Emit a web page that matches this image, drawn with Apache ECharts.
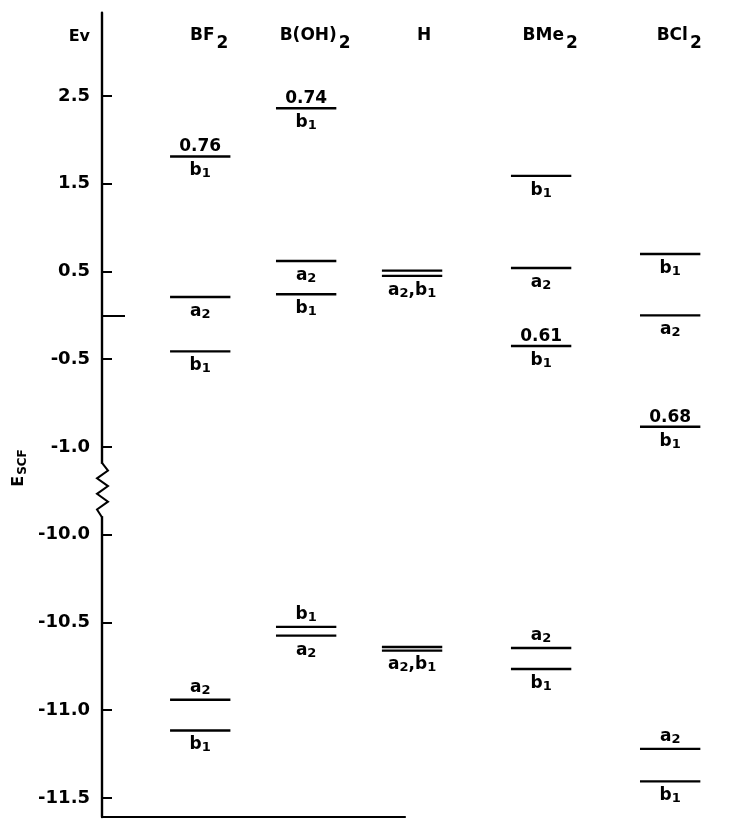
<!DOCTYPE html>
<html><head><meta charset="utf-8">
<script src="https://cdn.jsdelivr.net/npm/echarts@6/dist/echarts.min.js"></script>
<style>html,body{margin:0;padding:0;background:#fff}#c{width:744px;height:819px}</style>
</head><body><div id="c"></div>
<script>
// ---- data (level positions in axis units: one unit per labelled tick step) ----
const compounds = ['BF2', 'B(OH)2', 'H', 'BMe2', 'BCl2'];
const tickLabels = ['-11.5', '-11.0', '-10.5', '-10.0', '-1.0', '-0.5', '0.5', '1.5', '2.5'];
const tickPositions = [0, 1, 2, 3, 4, 5, 6, 7, 8];
const zeroTick = [5.5];

const bf2Levels = [7.31, 5.71, 5.09, 1.12, 0.77];
const bf2Syms = ['b1', 'a2', 'b1', 'a2', 'b1'];
const bf2Coef = ['0.76', '', '', '', ''];

const bohLevels = [7.86, 6.12, 5.74, 1.95, 1.85];
const bohSyms = ['b1', 'a2', 'b1', 'b1', 'a2'];
const bohCoef = ['0.74', '', '', '', ''];

const hLevels = [6.01, 5.95, 1.72, 1.68];
const hSyms = ['', 'a2,b1', '', 'a2,b1'];
const hCoef = ['', '', '', ''];

const bme2Levels = [7.09, 6.04, 5.15, 1.71, 1.47];
const bme2Syms = ['b1', 'a2', 'b1', 'a2', 'b1'];
const bme2Coef = ['', '', '0.61', '', ''];

const bcl2Levels = [6.20, 5.50, 4.23, 0.56, 0.19];
const bcl2Syms = ['b1', 'a2', 'b1', 'a2', 'b1'];
const bcl2Coef = ['', '', '0.68', '', ''];

// ---- layout ----
const colX = [1.53, 3.18, 4.83, 6.84, 8.85];   // column centres on x axis (0..10)
const halfW = 0.47;
const bf2Side = ['b', 'b', 'b', 'a', 'b'];
const bohSide = ['b', 'b', 'b', 'a', 'b'];
const hSide = ['b', 'b', 'b', 'b'];
const bme2Side = ['b', 'b', 'b', 'a', 'b'];
const bcl2Side = ['b', 'b', 'b', 'a', 'b'];

const FONT = 'DejaVu Sans';
const rich = {
  m: { fontSize: 17, fontWeight: 'bold', fontFamily: FONT, fill: '#000', color: '#000' },
  s: { fontSize: 13, fontWeight: 'bold', fontFamily: FONT, fill: '#000', color: '#000', padding: [6, 0, 0, 0] },
  n: { fontSize: 17, fontWeight: 'bold', fontFamily: FONT, fill: '#000', color: '#000' }
};
function symText(s) {
  return s.split(',').map(p => '{m|' + p[0] + '}{s|' + p.slice(1) + '}').join('{m|,}');
}

function makeSeries(ci, levels, syms, coef, side) {
  return {
    type: 'custom', xAxisIndex: 0, yAxisIndex: 0, silent: true,
    data: levels.map((v, i) => [colX[ci], v, i]),
    renderItem: function (params, api) {
      const i = api.value(2);
      const p = api.coord([api.value(0), api.value(1)]);
      const hw = api.size([halfW, 0])[0];
      const ch = [{
        type: 'line',
        shape: { x1: p[0] - hw, y1: p[1], x2: p[0] + hw, y2: p[1] },
        style: { stroke: '#000', lineWidth: 2.4 }
      }];
      if (syms[i]) {
        const above = side[i] === 'a';
        ch.push({
          type: 'text',
          style: {
            text: symText(syms[i]), rich: rich,
            x: p[0], y: above ? p[1] - 3 : p[1] + 5,
            align: 'center', verticalAlign: above ? 'bottom' : 'top', fill: '#000'
          }
        });
      }
      if (coef[i]) {
        ch.push({
          type: 'text',
          style: {
            text: '{n|' + coef[i] + '}', rich: rich,
            x: p[0], y: p[1] - 1, align: 'center', verticalAlign: 'bottom', fill: '#000'
          }
        });
      }
      return { type: 'group', children: ch };
    }
  };
}

const chart = echarts.init(document.getElementById('c'), null, { renderer: 'canvas' });
const yMin = -0.2165, yMax = 8.949;
const option = {
  backgroundColor: '#fff',
  animation: false,
  grid: [
    { left: 102, right: 0, top: 12.7, bottom: 2 },
    { left: 102, width: 303, top: 12.7, bottom: 2 }
  ],
  xAxis: [
    { gridIndex: 0, type: 'value', min: 0, max: 10, show: false },
    { gridIndex: 1, type: 'value', min: 0, max: 1, axisLine: { show: true, onZero: false, lineStyle: { color: '#000', width: 2.2 } },
      axisTick: { show: false }, axisLabel: { show: false }, splitLine: { show: false } }
  ],
  yAxis: [
    { gridIndex: 0, type: 'value', min: yMin, max: yMax,
      axisLine: { show: true, lineStyle: { color: '#000', width: 2.4 } },
      axisTick: { show: true, inside: true, length: 10, customValues: tickPositions, lineStyle: { color: '#000', width: 2 } },
      axisLabel: { show: true, customValues: tickPositions, margin: 12, color: '#000', fontSize: 18, fontWeight: 'bold', fontFamily: FONT,
        formatter: v => tickLabels[Math.round(v)] },
      splitLine: { show: false } },
    { gridIndex: 0, type: 'value', min: yMin, max: yMax, position: 'left',
      axisLine: { show: false },
      axisTick: { show: true, inside: true, length: 23, customValues: zeroTick, lineStyle: { color: '#000', width: 2 } },
      axisLabel: { show: false }, splitLine: { show: false } },
    { gridIndex: 1, type: 'value', min: yMin, max: yMax, show: false }
  ],
  series: [
    makeSeries(0, bf2Levels, bf2Syms, bf2Coef, bf2Side),
    makeSeries(1, bohLevels, bohSyms, bohCoef, bohSide),
    makeSeries(2, hLevels, hSyms, hCoef, hSide),
    makeSeries(3, bme2Levels, bme2Syms, bme2Coef, bme2Side),
    makeSeries(4, bcl2Levels, bcl2Syms, bcl2Coef, bcl2Side)
  ]
};
chart.setOption(option);

// ---- decorations: headers, axis names, axis break ----
const axX = chart.convertToPixel({ xAxisIndex: 0 }, 0);
const yBreakTop = chart.convertToPixel({ yAxisIndex: 0 }, 3.82);
const yBreakBot = chart.convertToPixel({ yAxisIndex: 0 }, 3.20);
const step = (yBreakBot - yBreakTop) / 7;
const zig = [[axX, yBreakTop]];
for (let k = 1; k <= 6; k++) zig.push([axX + (k % 2 ? 6 : -5), yBreakTop + step * k]);
zig.push([axX, yBreakBot]);

const headRich = {
  m: { fontSize: 17, fontWeight: 'bold', fontFamily: FONT, fill: '#000' },
  s: { fontSize: 17, fontWeight: 'bold', fontFamily: FONT, fill: '#000', padding: [16, 0, 0, 2] }
};
const graphics = compounds.map((c, i) => {
  const x = chart.convertToPixel({ xAxisIndex: 0 }, colX[i]);
  const hasSub = /2$/.test(c);
  const main = hasSub ? c.slice(0, -1) : c;
  return {
    type: 'text', z: 100, x: x + (hasSub ? 9 : 12), y: hasSub ? 52 : 44,
    style: { text: '{m|' + main + '}' + (hasSub ? '{s|2}' : ''), rich: headRich, align: 'center', verticalAlign: 'bottom' }
  };
});
graphics.push({ type: 'text', z: 100, x: 90, y: 45,
  style: { text: 'Ev', fontSize: 16, fontWeight: 'bold', fontFamily: FONT, fill: '#000', align: 'right', verticalAlign: 'bottom' } });
graphics.push({ type: 'text', z: 100, x: 19, y: 468, rotation: Math.PI / 2,
  style: { text: '{m|E}{s|SCF}', align: 'center', verticalAlign: 'middle',
    rich: { m: { fontSize: 16, fontWeight: 'bold', fontFamily: FONT, fill: '#000' }, s: { fontSize: 12, fontWeight: 'bold', fontFamily: FONT, fill: '#000', padding: [7, 0, 0, 1] } } } });
graphics.push({ type: 'rect', z: 100, shape: { x: axX - 3, y: yBreakTop + 1, width: 6, height: yBreakBot - yBreakTop - 2 }, style: { fill: '#fff' } });
graphics.push({ type: 'polyline', z: 101, shape: { points: zig }, style: { stroke: '#000', lineWidth: 2, fill: null } });
chart.setOption({ graphic: graphics });
</script>
</body></html>
